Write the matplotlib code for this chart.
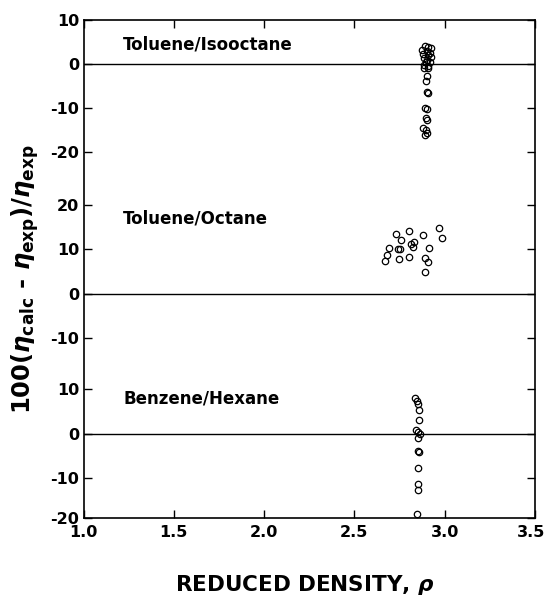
import numpy as np
import matplotlib
matplotlib.use("Agg")
import matplotlib.pyplot as plt
from matplotlib.transforms import ScaledTranslation

plt.rcParams['font.family'] = ['DejaVu Sans']
plt.rcParams['font.weight'] = 'bold'
plt.rcParams['mathtext.fontset'] = 'custom'
plt.rcParams['mathtext.rm'] = 'DejaVu Sans:bold'
plt.rcParams['mathtext.bf'] = 'DejaVu Sans:bold'
plt.rcParams['mathtext.it'] = 'DejaVu Sans:bold:italic'

# Toluene/Isooctane
top_x = [2.891, 2.909, 2.924, 2.876, 2.900, 2.918, 2.882, 2.909, 2.924, 2.887,
         2.904, 2.894, 2.918, 2.887, 2.909, 2.887, 2.909, 2.904, 2.894, 2.900,
         2.909, 2.891, 2.904, 2.894, 2.904, 2.882, 2.894, 2.900, 2.891]
top_y = [4.1, 3.9, 3.6, 3.2, 3.0, 2.6, 2.3, 2.1, 1.7, 1.4,
         0.9, 0.4, 0.4, -0.2, -0.4, -0.8, -0.9, -2.6, -3.8, -6.4,
         -6.6, -10.0, -10.2, -12.2, -12.7, -14.5, -14.9, -15.5, -16.0]

# Toluene/Octane
mid_x = [2.669, 2.679, 2.692, 2.730, 2.740, 2.747, 2.752, 2.758, 2.804, 2.804,
         2.813, 2.823, 2.832, 2.878, 2.891, 2.906, 2.915, 2.970, 2.985, 2.890]
mid_y = [7.4, 8.7, 10.3, 13.4, 10.2, 7.9, 10.0, 12.2, 14.3, 8.4,
         11.3, 10.5, 11.6, 13.3, 8.1, 7.2, 10.3, 14.8, 12.7, 4.8]

# Benzene/Hexane
bot_x = [2.836, 2.845, 2.854, 2.858, 2.858, 2.839, 2.854, 2.863, 2.850, 2.854,
         2.856, 2.854, 2.854, 2.854, 2.845]
bot_y = [8.1, 7.3, 6.6, 5.3, 3.0, 0.7, 0.4, 0.0, -1.0, -4.0,
         -4.2, -7.9, -11.5, -12.7, -18.3]

names = ['Toluene/Isooctane', 'Toluene/Octane', 'Benzene/Hexane']
offsets = [83.7, 31.7, 0.0]     # vertical shift of each panel's zero
name_y = [4.5, 17.0, 7.9]
panel_ticks = [[10, 0, -10, -20], [20, 10, 0, -10], [10, 0, -10, -20]]
ymin = -19.2

fig = plt.figure(figsize=(5.48, 5.96), dpi=100)
ax = fig.add_axes([0.1524, 0.1304, 0.8239, 0.8361])

for xs, ys, off in zip([top_x, mid_x, bot_x], [top_y, mid_y, bot_y], offsets):
    ax.plot(xs, np.array(ys) + off, 'o', mfc='none', mec='black',
            ms=4.6, mew=0.9)
    ax.axhline(off, color='black', lw=1.0)

for nm, ny, off in zip(names, name_y, offsets):
    ax.text(1.22, ny + off, nm, fontsize=12, fontweight='bold', va='center')

tick_pos = []
tick_lab = []
for ticks, off in zip(panel_ticks, offsets):
    for t in ticks:
        tick_pos.append(max(t + off, ymin))
        tick_lab.append(str(t))
ax.set_yticks(tick_pos)
ax.set_yticklabels(tick_lab)

ax.set_xlim(1.0, 3.5)
ax.set_ylim(ymin, offsets[0] + 10)
ax.set_xticks([1.0, 1.5, 2.0, 2.5, 3.0, 3.5])
ax.set_xticklabels(['1.0', '1.5', '2.0', '2.5', '3.0', '3.5'])
ax.tick_params(direction='in', length=6, width=1, top=True, right=True,
               labelsize=11.5)
ax.tick_params(axis='x', pad=5)
ax.tick_params(axis='y', pad=3)
# nudge last x label left so it stays inside the figure
lab = ax.get_xticklabels()[-1]
lab.set_transform(lab.get_transform() + ScaledTranslation(-3 / 72, 0, fig.dpi_scale_trans))
for sp in ax.spines.values():
    sp.set_linewidth(1.2)

fig.text(0.555, 1 - 585 / 596, r'REDUCED DENSITY, $\rho$', fontsize=15.5,
         fontweight='bold', ha='center', va='center')
fig.text(25 / 548, 1 - 279 / 596,
         r'100($\eta_{\mathrm{calc}}$ - $\eta_{\mathrm{exp}}$)/$\eta_{\mathrm{exp}}$',
         fontsize=17.5, fontweight='bold', rotation=90, ha='center', va='center')

fig.savefig('out.png', dpi=100)
